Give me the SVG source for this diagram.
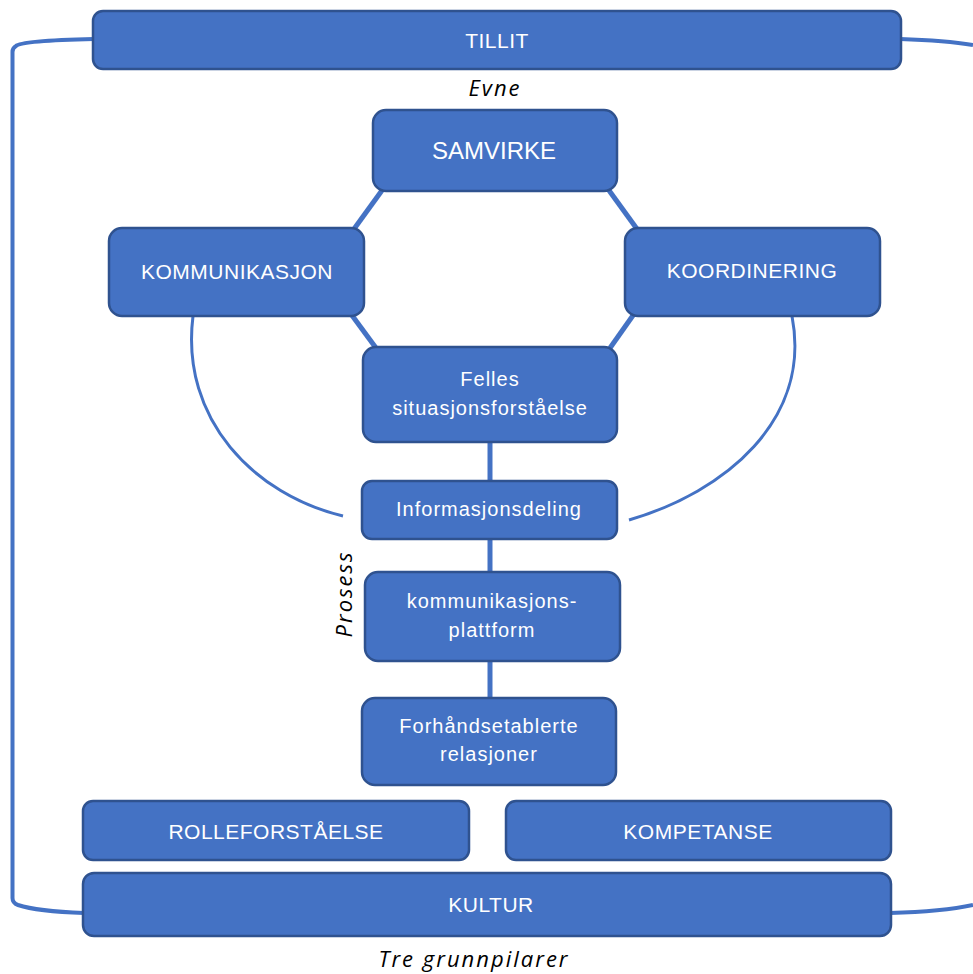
<svg xmlns="http://www.w3.org/2000/svg" width="973" height="974" viewBox="0 0 973 974">
<style>
.box{fill:#4472C4;stroke:#2F528F;stroke-width:2.5}
.t{fill:#fff;font-family:"Liberation Sans",Arial,sans-serif;text-anchor:middle;dominant-baseline:central}
.cap{font-size:21px;letter-spacing:0.5px}
.low{font-size:20px;letter-spacing:1px}
.it{fill:#000;font-family:"Open Sans","Liberation Sans",sans-serif;font-style:italic;text-anchor:middle;dominant-baseline:central;letter-spacing:2px;font-size:22px}
.c{fill:none;stroke:#4472C4}
</style>
<rect width="973" height="974" fill="#fff"/>
<g id="connectors">
<path class="c" stroke-width="4" d="M94,39 C50,40 20,42 16,46 Q12.5,48 12.5,52 L12.5,898 Q12.5,903 18,905 C30,909 55,912 84,913"/>
<path class="c" stroke-width="4" d="M900,39 C930,40 955,42 973,45"/>
<path class="c" stroke-width="4" d="M890,913 C930,912 955,909 973,905"/>
<line class="c" stroke-width="5" x1="383" y1="189" x2="354" y2="229"/>
<line class="c" stroke-width="5" x1="608" y1="189" x2="637" y2="229"/>
<line class="c" stroke-width="5" x1="351" y1="314" x2="376" y2="348"/>
<line class="c" stroke-width="5" x1="634" y1="314" x2="610" y2="348"/>
<line class="c" stroke-width="5" x1="490" y1="442" x2="490" y2="482"/>
<line class="c" stroke-width="5" x1="490" y1="539" x2="490" y2="573"/>
<line class="c" stroke-width="5" x1="490" y1="660" x2="490" y2="699"/>
<path class="c" stroke-width="3" d="M193,316 C180,420 255,495 343,516"/>
<path class="c" stroke-width="3" d="M792,316 C812,420 725,492 629,520"/>
</g>
<g id="tillit"><rect class="box" x="93" y="11" width="808" height="58" rx="10"/><text class="t cap" x="497" y="40">TILLIT</text></g>
<g id="evne"><text class="it" x="495" y="87">Evne</text></g>
<g id="samvirke"><rect class="box" x="373" y="110" width="244" height="81" rx="13"/><text class="t" x="494" y="150" font-size="24">SAMVIRKE</text></g>
<g id="kommunikasjon"><rect class="box" x="109" y="228" width="255" height="88" rx="13"/><text class="t cap" x="237" y="271">KOMMUNIKASJON</text></g>
<g id="koordinering"><rect class="box" x="625" y="228" width="255" height="88" rx="13"/><text class="t cap" x="752" y="270">KOORDINERING</text></g>
<g id="felles"><rect class="box" x="363" y="347" width="254" height="95" rx="13"/><text class="t low" x="490" y="379">Felles</text><text class="t low" x="490" y="408">situasjonsforståelse</text></g>
<g id="informasjonsdeling"><rect class="box" x="362" y="481" width="255" height="58" rx="10"/><text class="t low" x="489" y="509">Informasjonsdeling</text></g>
<g id="plattform"><rect class="box" x="365" y="572" width="255" height="89" rx="13"/><text class="t low" x="492" y="601">kommunikasjons-</text><text class="t low" x="492" y="630">plattform</text></g>
<g id="prosess"><text class="it" x="0" y="0" font-size="23" transform="translate(343,594) rotate(-90)">Prosess</text></g>
<g id="forhandsetablerte"><rect class="box" x="362" y="698" width="254" height="87" rx="13"/><text class="t low" x="489" y="726">Forhåndsetablerte</text><text class="t low" x="489" y="754">relasjoner</text></g>
<g id="rolleforstaelse"><rect class="box" x="83" y="801" width="386" height="59" rx="10"/><text class="t cap" x="276" y="831">ROLLEFORSTÅELSE</text></g>
<g id="kompetanse"><rect class="box" x="506" y="801" width="385" height="59" rx="10"/><text class="t cap" x="698" y="831">KOMPETANSE</text></g>
<g id="kultur"><rect class="box" x="83" y="873" width="808" height="63" rx="11"/><text class="t cap" x="491" y="904">KULTUR</text></g>
<g id="tre"><text class="it" x="474" y="958" font-size="21">Tre grunnpilarer</text></g>
</svg>
